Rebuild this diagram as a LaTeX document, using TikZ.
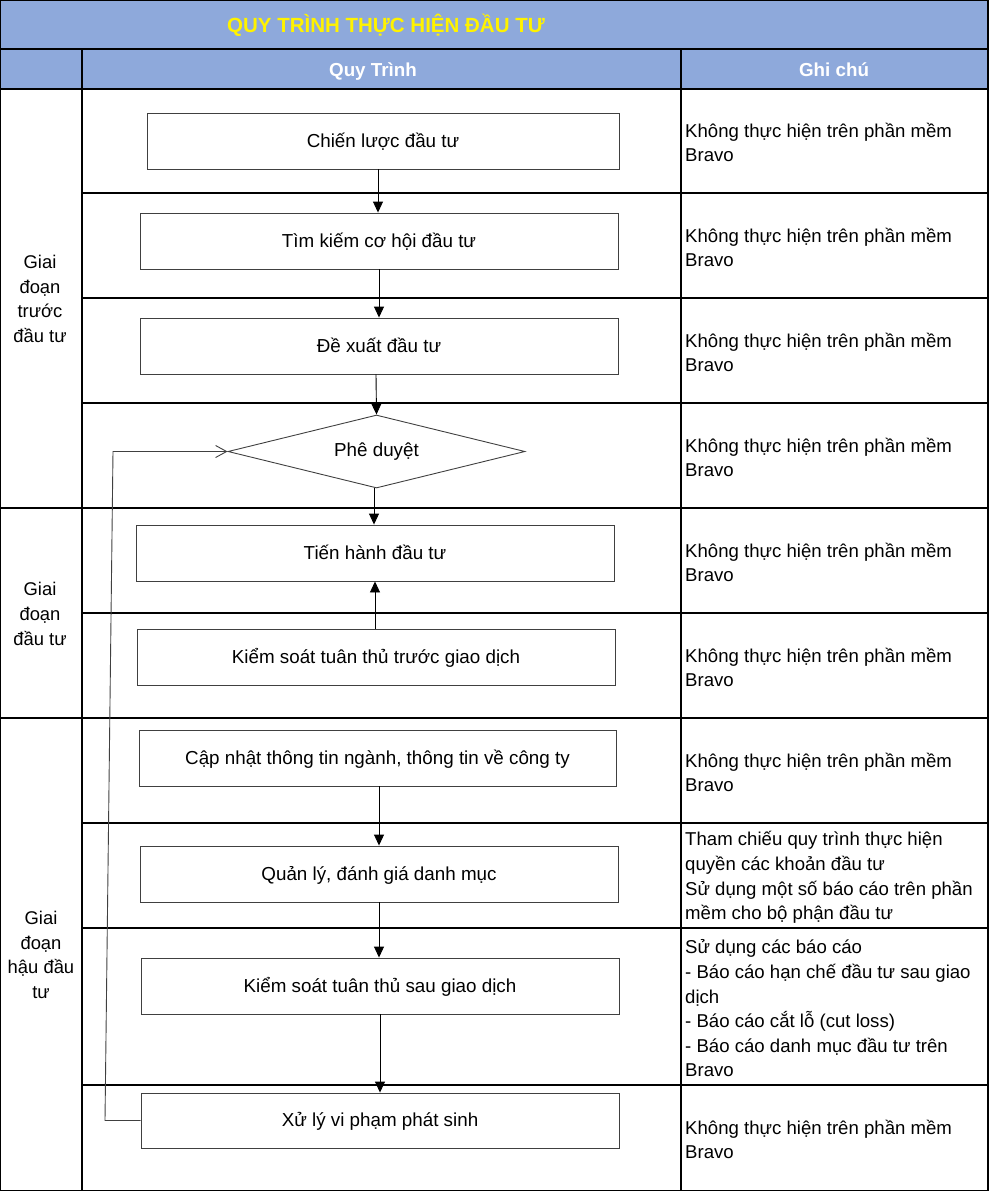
\documentclass[tikz,border=0pt]{standalone}
\usepackage{fontspec}
\setmainfont{Liberation Sans}
\usetikzlibrary{arrows.meta,shapes.geometric,calc}
\definecolor{hdrblue}{RGB}{142,169,219}
\definecolor{boxgray}{RGB}{64,64,64}
\tikzset{
  tline/.style={black,line width=1.4pt},
  thickline/.style={black,line width=2.6pt},
  stepbox/.style={draw=boxgray,line width=0.9pt,minimum height=56pt,minimum width=478pt,inner sep=0pt,text depth=2pt,font=\fontsize{18.8}{22}\selectfont},
  decision/.style={draw=boxgray,line width=0.9pt,diamond,aspect=4.07,minimum width=297pt,minimum height=73pt,inner sep=0pt,font=\fontsize{18.8}{22}\selectfont},
  arr/.style={black,line width=0.9pt,-{Triangle[length=11pt,width=10pt]}},
  backarr/.style={boxgray,line width=0.9pt,-{Straight Barb[length=11pt,width=12pt,line width=0.9pt]}},
  note/.style={anchor=west,align=left,inner sep=0pt,font=\fontsize{18.6}{24.6}\selectfont},
  phase/.style={align=center,inner sep=0pt,font=\fontsize{18.4}{24.6}\selectfont},
  hdr/.style={text=white,anchor=base,font=\fontsize{18.8}{22}\selectfont\bfseries},
}
\begin{document}
\begin{tikzpicture}[x=1pt,y=-1pt]
\useasboundingbox (0,0) rectangle (988,1191);
% header fills
\fill[hdrblue] (0,0) rectangle (988,89);
\node[text=yellow,font=\fontsize{20.5}{22}\selectfont\bfseries] (title) at (386,25) {QUY TRÌNH THỰC HIỆN ĐẦU TƯ};
\node[hdr] (hq) at (373,76) {Quy Trình};
\node[hdr] (hg) at (834,76) {Ghi chú};
% table lines
\draw[tline] (0,0) rectangle (988,1191);
\draw[tline] (0,49) -- (988,49);
\draw[thickline] (0,89) -- (988,89);
\draw[tline] (82,49) -- (82,1191);
\draw[tline] (681,49) -- (681,1191);
\foreach \yy in {193,298,403,823,928,1085}{\draw[tline] (82,\yy) -- (988,\yy);}
\draw[tline] (82,613) -- (988,613);
\draw[tline] (0,508) -- (988,508);
\draw[tline] (0,718) -- (988,718);
% phase labels
\node[phase] (p1) at (40,299) {Giai\\đoạn\\trước\\đầu tư};
\node[phase] (p2) at (40,614) {Giai\\đoạn\\đầu tư};
\node[phase] (p3) at (41,955) {Giai\\đoạn\\hậu đầu\\tư};
% process steps
\node[stepbox,minimum width=472pt] (b1) at (383,141) {Chiến lược đầu tư};
\node[stepbox] (b2) at (379,241) {Tìm kiếm cơ hội đầu tư};
\node[stepbox] (b3) at (379,346) {Đề xuất đầu tư};
\node[decision] (dia) at (376.5,451.5) {Phê duyệt};
\node[stepbox] (b5) at (375,553) {Tiến hành đầu tư};
\node[stepbox] (b6) at (376,657) {Kiểm soát tuân thủ trước giao dịch};
\node[stepbox,minimum width=477pt] (b7) at (377.5,758) {Cập nhật thông tin ngành, thông tin về công ty};
\node[stepbox] (b8) at (379,874) {Quản lý, đánh giá danh mục};
\node[stepbox] (b9) at (380,986) {Kiểm soát tuân thủ sau giao dịch};
\node[stepbox,minimum height=55pt] (b10) at (380,1120.5) {Xử lý vi phạm phát sinh};
% connectors
\draw[arr] ([xshift=-5pt]b1.south) -- ([xshift=-5pt]b1.south |- b2.north);
\draw[arr] (b2.south) -- (b2.south |- b3.north);
\draw[arr] ([xshift=-3pt]b3.south) -- (dia.north);
\draw[arr] ([xshift=-2.5pt]dia.south) -- ([xshift=-2.5pt]dia.south |- b5.north);
\draw[arr] ([xshift=-1pt]b6.north) -- ([xshift=-1pt]b6.north |- b5.south);
\draw[arr] ([xshift=1.5pt]b7.south) -- ([xshift=1.5pt]b7.south |- b8.north);
\draw[arr] (b8.south) -- (b8.south |- b9.north);
\draw[arr] (b9.south) -- (b9.south |- b10.north);
\coordinate (fbA) at (105,1120.5);
\coordinate (fbB) at (113,451.5);
\draw[backarr] (b10.west) -- (fbA) -- (fbB) -- (dia.west);
% notes
\node[note] (n1) at (685,142.5) {Không thực hiện trên phần mềm\\Bravo};
\node[note] (n2) at (685,247.5) {Không thực hiện trên phần mềm\\Bravo};
\node[note] (n3) at (685,352.5) {Không thực hiện trên phần mềm\\Bravo};
\node[note] (n4) at (685,457.5) {Không thực hiện trên phần mềm\\Bravo};
\node[note] (n5) at (685,562.5) {Không thực hiện trên phần mềm\\Bravo};
\node[note] (n6) at (685,667.5) {Không thực hiện trên phần mềm\\Bravo};
\node[note] (n7) at (685,772.5) {Không thực hiện trên phần mềm\\Bravo};
\node[note] (n8) at (685,877.5) {Tham chiếu quy trình thực hiện\\quyền các khoản đầu tư\\Sử dụng một số báo cáo trên phần\\mềm cho bộ phận đầu tư};
\node[note] (n9) at (685,1008.5) {Sử dụng các báo cáo\\- Báo cáo hạn chế đầu tư sau giao\\dịch\\- Báo cáo cắt lỗ (cut loss)\\- Báo cáo danh mục đầu tư trên\\Bravo};
\node[note] (n10) at (685,1139.5) {Không thực hiện trên phần mềm\\Bravo};
\end{tikzpicture}
\end{document}
